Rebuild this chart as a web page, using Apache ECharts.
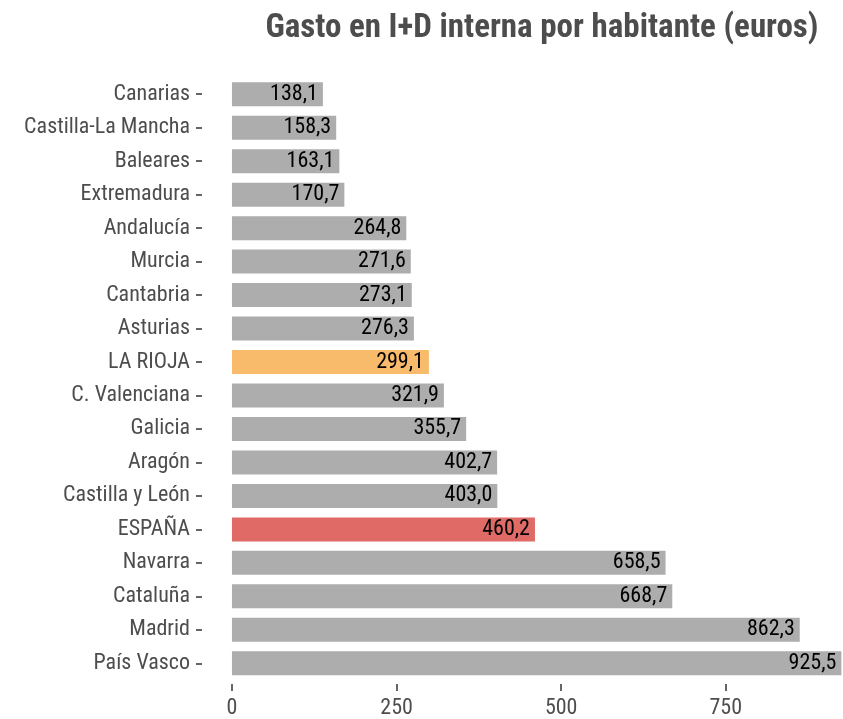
<!DOCTYPE html>
<html>
<head>
<meta charset="utf-8">
<script src="https://cdn.jsdelivr.net/npm/echarts@6/dist/echarts.min.js"></script>
<style>
  body { margin: 0; background: #fff; }
  #chart { width: 843px; height: 719px; }
</style>
</head>
<body>
<div id="chart"></div>
<script>
// regiones de arriba a abajo
var regiones = ['Canarias', 'Castilla-La Mancha', 'Baleares', 'Extremadura', 'Andalucía', 'Murcia',
  'Cantabria', 'Asturias', 'LA RIOJA', 'C. Valenciana', 'Galicia', 'Aragón', 'Castilla y León',
  'ESPAÑA', 'Navarra', 'Cataluña', 'Madrid', 'País Vasco']
var gasto = [138.1, 158.3, 163.1, 170.7, 264.8, 271.6, 273.1, 276.3, 299.1, 321.9, 355.7,
  402.7, 403.0, 460.2, 658.5, 668.7, 862.3, 925.5]
var ticksX = [0, 250, 500, 750]

var fuente = '"Liberation Sans Narrow", "Roboto Condensed", "Arial Narrow", sans-serif'

function colorBarra(nombre) {
    if (nombre == 'LA RIOJA') return '#f8bb6b'
    if (nombre == 'ESPAÑA') return '#e06b66'
    return '#adadad'
}

var myChart = echarts.init(document.getElementById('chart'))
myChart.setOption({
    animation: false,
    title: {
        text: 'Gasto en I+D interna por habitante (euros)',
        left: 537,
        textAlign: 'center',
        top: 7,
        textStyle: { fontFamily: fuente, fontSize: 33, fontWeight: 'bold', color: '#4d4d4d' }
    },
    grid: { left: 202, right: 0, top: 77.5, bottom: 38, containLabel: false },
    xAxis: {
        type: 'value',
        min: -45.5, // expansion como en ggplot
        max: 928,
        offset: 4,
        splitLine: { show: false },
        axisLine: { show: false },
        axisTick: { show: true, length: 7, customValues: ticksX, lineStyle: { color: '#333', width: 1.5 } },
        axisLabel: {
            margin: 13,
            customValues: ticksX,
            fontFamily: fuente, fontSize: 22, color: '#4d4d4d'
        }
    },
    yAxis: {
        type: 'category',
        inverse: true,
        data: regiones,
        axisLine: { show: false, onZero: false },
        axisTick: { show: true, length: 6, alignWithLabel: true, lineStyle: { color: '#333', width: 1.5 } },
        axisLabel: { margin: 12, fontFamily: fuente, fontSize: 22, color: '#4d4d4d' }
    },
    series: [{
        type: 'bar',
        barWidth: 24,
        data: gasto.map(function (v, i) {
            return { value: [v, regiones[i]], itemStyle: { color: colorBarra(regiones[i]) } }
        }),
        label: {
            show: true,
            position: 'insideRight',
            distance: 5,
            fontFamily: fuente, fontSize: 22, color: '#000',
            formatter: function (p) { return p.value[0].toFixed(1).replace('.', ',') }
        }
    }]
})
</script>
</body>
</html>
